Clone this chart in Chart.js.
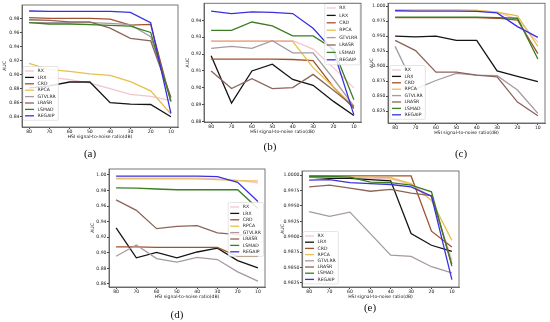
<!DOCTYPE html>
<html>
<head>
<meta charset="utf-8">
<script src="https://cdn.jsdelivr.net/npm/chart.js@4.4.1/dist/chart.umd.min.js"></script>
<style>
  body { margin: 0; background: #fff; }
  #wrap { position: relative; width: 550px; height: 322px; overflow: hidden; background: #fff; }
  #wrap canvas { position: absolute; left: 0; top: 0; }
  .tag { position: absolute; font-family: "Liberation Serif", "DejaVu Serif", serif; font-size: 11px;
         line-height: 10px; color: #111; transform: translateX(-50%); }
</style>
</head>
<body>
<div id="wrap">
  <canvas id="ca" width="550" height="322"></canvas>
  <canvas id="cb" width="550" height="322"></canvas>
  <canvas id="cc" width="550" height="322"></canvas>
  <canvas id="cd" width="550" height="322"></canvas>
  <canvas id="ce" width="550" height="322"></canvas>
  <div class="tag" style="left:90px;top:148px">(a)</div>
  <div class="tag" style="left:270px;top:141px">(b)</div>
  <div class="tag" style="left:461px;top:148px">(c)</div>
  <div class="tag" style="left:177px;top:309px">(d)</div>
  <div class="tag" style="left:370px;top:302px">(e)</div>
</div>
<script>
// methods and SNR levels shared by all five panels
var methods = ["RX", "LRX", "CRD", "RPCA", "GTVLRR", "LRASR", "LSMAD", "REGAIP"];
var snr = [80, 70, 60, 50, 40, 30, 20, 10];

// AUC per method (rows follow the methods list), one array per panel
var aucA = [
    [0.900, 0.896, 0.893, 0.888, 0.880, 0.872, 0.869, 0.863],
    [0.881, 0.884, 0.8895, 0.8895, 0.860, 0.858, 0.8575, 0.840],
    [0.981, 0.980, 0.980, 0.980, 0.979, 0.9705, 0.9715, 0.862],
    [0.916, 0.907, 0.9045, 0.901, 0.899, 0.890, 0.877, 0.844],
    [0.974, 0.974, 0.974, 0.974, 0.973, 0.971, 0.954, 0.866],
    [0.978, 0.977, 0.975, 0.975, 0.966, 0.9515, 0.948, 0.868],
    [0.974, 0.972, 0.972, 0.971, 0.970, 0.969, 0.960, 0.862],
    [0.9905, 0.990, 0.990, 0.990, 0.990, 0.9886, 0.974, 0.845]
];
var aucB = [
    [0.928, 0.928, 0.928, 0.928, 0.928, 0.923, 0.912, 0.900],
    [0.919, 0.891, 0.910, 0.914, 0.905, 0.9015, 0.892, 0.8836],
    [0.917, 0.917, 0.917, 0.917, 0.9168, 0.9162, 0.9005, 0.8878],
    [0.9275, 0.9275, 0.9275, 0.9275, 0.9275, 0.912, 0.9005, 0.889],
    [0.9234, 0.9246, 0.9234, 0.9279, 0.9207, 0.9207, 0.9054, 0.8892],
    [0.910, 0.8996, 0.9054, 0.8996, 0.9002, 0.908, 0.8986, 0.8888],
    [0.934, 0.934, 0.939, 0.9367, 0.9308, 0.9308, 0.923, 0.893],
    [0.9455, 0.944, 0.945, 0.9447, 0.944, 0.9353, 0.922, 0.884]
];
var aucC = [
    [0.993, 0.993, 0.993, 0.993, 0.993, 0.990, 0.978, 0.940],
    [0.950, 0.949, 0.950, 0.943, 0.943, 0.892, 0.883, 0.874],
    [0.981, 0.981, 0.981, 0.981, 0.981, 0.980, 0.977, 0.921],
    [0.994, 0.994, 0.994, 0.994, 0.993, 0.990, 0.984, 0.933],
    [0.933, 0.862, 0.876, 0.888, 0.885, 0.884, 0.860, 0.821],
    [0.943, 0.926, 0.890, 0.890, 0.885, 0.882, 0.840, 0.817],
    [0.982, 0.982, 0.982, 0.982, 0.982, 0.981, 0.980, 0.912],
    [0.9925, 0.992, 0.992, 0.992, 0.9915, 0.989, 0.966, 0.948]
];
var aucD = [
    [0.996, 0.996, 0.996, 0.996, 0.996, 0.995, 0.993, 0.990],
    [0.932, 0.8935, 0.9005, 0.8935, 0.901, 0.906, 0.890, 0.8805],
    [0.9075, 0.9075, 0.907, 0.907, 0.907, 0.907, 0.8955, 0.8955],
    [0.995, 0.995, 0.995, 0.995, 0.995, 0.994, 0.9928, 0.9925],
    [0.8955, 0.910, 0.8926, 0.888, 0.8942, 0.8913, 0.8755, 0.8635],
    [0.968, 0.9545, 0.931, 0.934, 0.935, 0.9255, 0.9233, 0.921],
    [0.9835, 0.983, 0.982, 0.981, 0.981, 0.981, 0.981, 0.957],
    [0.9985, 0.9985, 0.9985, 0.9985, 0.9985, 0.998, 0.9906, 0.966]
];
var aucE = [
    [0.9998, 0.9998, 0.9997, 0.9995, 0.9994, 0.9985, 0.9965, 0.9862],
    [0.9997, 0.9995, 0.9995, 0.9993, 0.9991, 0.9905, 0.9886, 0.9876],
    [0.9999, 0.9999, 0.9999, 0.9999, 0.9999, 0.9999, 0.9909, 0.9883],
    [0.9997, 0.9997, 0.9997, 0.9997, 0.9996, 0.99865, 0.9959, 0.9894],
    [0.9941, 0.9933, 0.9940, 0.9905, 0.9870, 0.9868, 0.9851, 0.9841],
    [0.9981, 0.9984, 0.9979, 0.9974, 0.9977, 0.9971, 0.9967, 0.9855],
    [0.9998, 0.9998, 0.9997, 0.9989, 0.9988, 0.9984, 0.9973, 0.9852],
    [0.9992, 0.9993, 0.9988, 0.99865, 0.9985, 0.9981, 0.9966, 0.9830]
];

// y tick labels of each panel
var ticksA = [0.84, 0.86, 0.88, 0.90, 0.92, 0.94, 0.96, 0.98];
var ticksB = [0.88, 0.89, 0.90, 0.91, 0.92, 0.93, 0.94];
var ticksC = [0.825, 0.850, 0.875, 0.900, 0.925, 0.950, 0.975, 1.000];
var ticksD = [0.86, 0.88, 0.90, 0.92, 0.94, 0.96, 0.98, 1.00];
var ticksE = [0.9825, 0.9850, 0.9875, 0.9900, 0.9925, 0.9950, 0.9975, 1.0000];

var lineColors = ["#f5c4cd", "#141414", "#a0522d", "#e6c04c", "#a69aa0", "#8c6459", "#3a7d22", "#3a30e0"];
var smallFont = {family: "DejaVu Sans", size: 4.6};

// legend drawn inside the plot box, like the matplotlib one
var innerLegend = {
    id: "innerLegend",
    afterDatasetsDraw: function (chart, args, opts) {
        if (!opts || opts.row === undefined) return;
        var ctx = chart.ctx;
        ctx.save();
        ctx.font = "4.6px 'DejaVu Sans'";
        var maxW = 0;
        chart.data.datasets.forEach(function (ds) {
            maxW = Math.max(maxW, ctx.measureText(ds.label).width);
        });
        var w = 2 + 9 + 3.5 + maxW + 2.5;
        var h = opts.first * 2 + opts.row * (chart.data.datasets.length - 1);
        var x = opts.right !== undefined ? opts.right - w : opts.x;
        var y = opts.y;
        ctx.fillStyle = "rgba(255,255,255,0.85)";
        ctx.strokeStyle = "#d4d4d4";
        ctx.lineWidth = 0.6;
        ctx.beginPath();
        ctx.roundRect(x, y, w, h, 1.5);
        ctx.fill();
        ctx.stroke();
        ctx.textBaseline = "middle";
        chart.data.datasets.forEach(function (ds, i) {
            var cy = y + opts.first + i * opts.row;
            ctx.strokeStyle = ds.borderColor;
            ctx.lineWidth = 1.3;
            ctx.beginPath();
            ctx.moveTo(x + 2, cy);
            ctx.lineTo(x + 11, cy);
            ctx.stroke();
            ctx.fillStyle = "#1a1a1a";
            ctx.fillText(ds.label, x + 14.5, cy);
        });
        ctx.restore();
    }
};

// full frame round the plot area
var frameBox = {
    id: "frameBox",
    afterDraw: function (chart) {
        var a = chart.chartArea, ctx = chart.ctx;
        ctx.save();
        ctx.strokeStyle = "#555";
        ctx.lineWidth = 0.8;
        ctx.strokeRect(a.left, a.top, a.right - a.left, a.bottom - a.top);
        ctx.restore();
    }
};

Chart.register(innerLegend, frameBox);

function drawPanel(id, auc, yTicks, dec, yMin, yMax, box, legendOpts) {
    var datasets = methods.map(function (name, i) {
        return {
            label: name,
            data: snr.map(function (s, j) { return {x: s, y: auc[i][j]}; }),
            borderColor: lineColors[i],
            borderWidth: 1.3,
            pointRadius: 0,
            tension: 0,
            fill: false,
            order: methods.length - i
        };
    });
    new Chart(document.getElementById(id).getContext("2d"), {
        type: "line",
        data: {datasets: datasets},
        options: {
            responsive: false,
            animation: false,
            layout: {padding: {left: box.l - box.yW, top: box.t, right: 550 - box.r, bottom: 322 - box.b - box.xH}},
            plugins: {legend: {display: false}, tooltip: {enabled: false}, innerLegend: legendOpts},
            scales: {
                x: {
                    type: "linear", reverse: true, min: 6.5, max: 83.5,
                    afterBuildTicks: function (s) { s.ticks = snr.map(function (v) { return {value: v}; }); },
                    afterFit: function (s) { s.height = box.xH; },
                    ticks: {font: smallFont, color: "#1a1a1a", padding: 0, maxRotation: 0, autoSkip: false,
                        callback: function (v) { return String(v); }},
                    grid: {drawOnChartArea: false, tickLength: 2, tickColor: "#444", color: "#444"},
                    border: {color: "#555", width: 0.8},
                    title: {display: true, text: "HSI signal-to-noise ratio(dB)", font: smallFont, color: "#1a1a1a",
                        padding: {top: 0, bottom: 0.3}}
                },
                y: {
                    min: yMin, max: yMax,
                    afterBuildTicks: function (s) { s.ticks = yTicks.map(function (v) { return {value: v}; }); },
                    afterFit: function (s) { s.width = box.yW; },
                    ticks: {font: smallFont, color: "#1a1a1a", padding: 0.5, autoSkip: false,
                        callback: function (v) { return Number(v).toFixed(dec); }},
                    grid: {drawOnChartArea: false, tickLength: 2, tickColor: "#444", color: "#444"},
                    border: {color: "#555", width: 0.8},
                    title: {display: true, text: "AUC", font: smallFont, color: "#1a1a1a", padding: {top: 0, bottom: 0}}
                }
            }
        }
    });
}

drawPanel("ca", aucA, ticksA, 2, 0.8255, 0.999, {l: 22, t: 5, r: 178, b: 127, yW: 19.7, xH: 12.7},
    {x: 23, y: 66.5, first: 4.5, row: 6.4});
drawPanel("cb", aucB, ticksB, 2, 0.8798, 0.9501, {l: 204, t: 2, r: 361, b: 122, yW: 18.7, xH: 12.7},
    {right: 360, y: 3, first: 5, row: 7.4});
drawPanel("cc", aucC, ticksC, 3, 0.805, 1.005, {l: 388, t: 3, r: 545, b: 123, yW: 18.7, xH: 12.7},
    {x: 390, y: 65.5, first: 4.5, row: 6.4});
drawPanel("cd", aucD, ticksD, 2, 0.856, 1.0077, {l: 109, t: 169, r: 265, b: 287, yW: 19.4, xH: 12.7},
    {right: 263.5, y: 202.5, first: 4.5, row: 6.4});
drawPanel("ce", aucE, ticksE, 4, 0.9818, 1.0007, {l: 302, t: 171, r: 459, b: 287, yW: 21.7, xH: 12.7},
    {x: 303, y: 231.5, first: 4.5, row: 6.2});
</script>
</body>
</html>
